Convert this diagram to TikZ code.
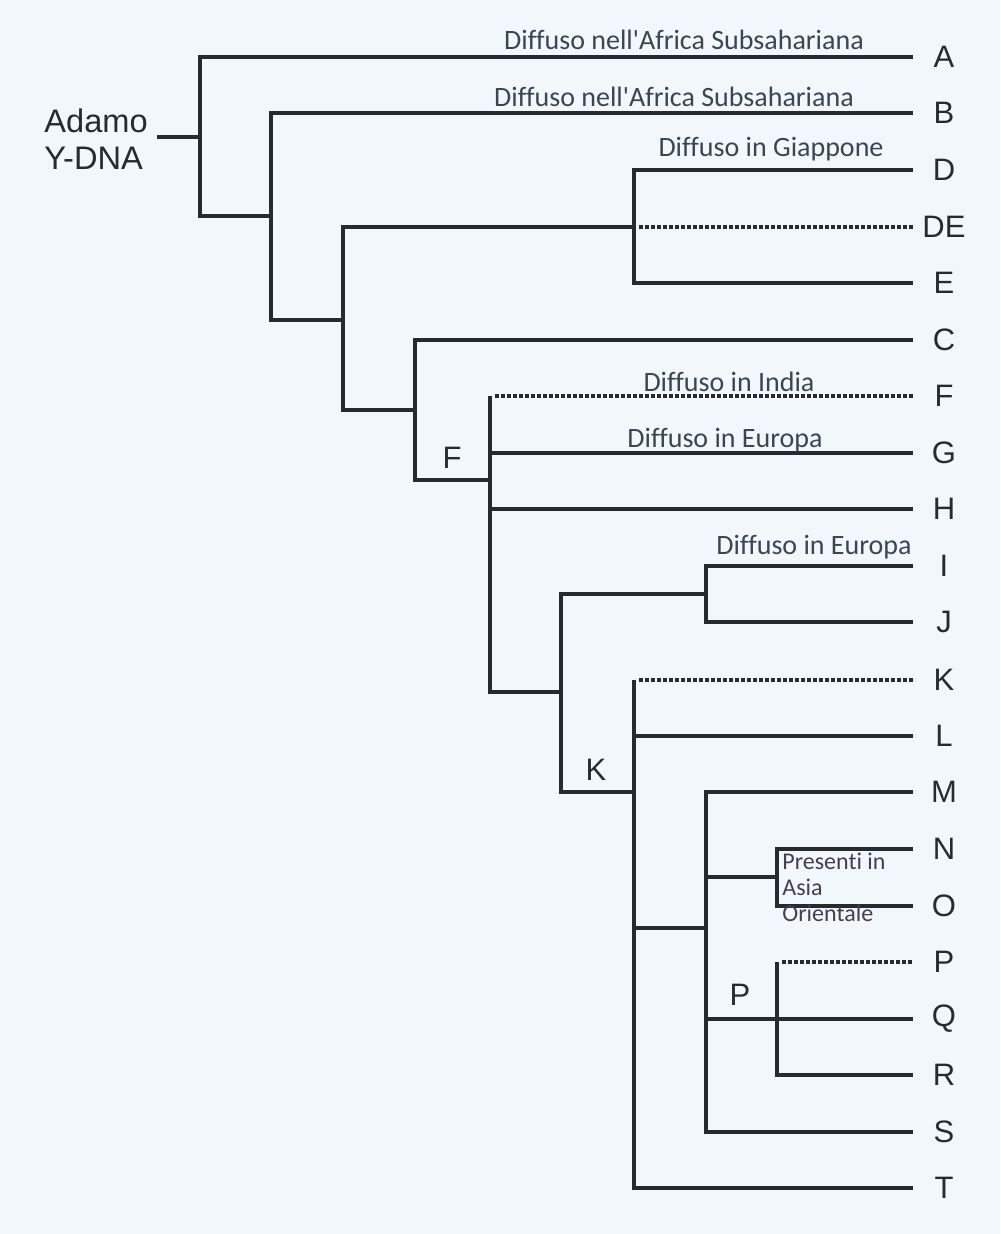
\documentclass[tikz,border=0pt]{standalone}
\usepackage{fontspec}
\setmainfont{Liberation Sans}
\newfontfamily\notefont[Ligatures=CommonOff]{Carlito}
\usepackage{xcolor}
\definecolor{paperBlue}{HTML}{F2F7FB}
\definecolor{treeInk}{HTML}{262B2F}
\definecolor{noteInk}{HTML}{3B4651}
\definecolor{asiaInk}{HTML}{453D55}

\tikzset{
  branch/.style={draw=treeInk,line width=2pt},
  dotline/.style={draw=treeInk,line width=2pt,dash pattern=on 2pt off 1pt},
  leaf/.style={text=treeInk,inner sep=0pt,font=\fontsize{15.5}{18}\selectfont},
  clade/.style={text=treeInk,inner sep=0pt,font=\fontsize{15.5}{18}\selectfont},
  note/.style={text=noteInk,inner sep=0pt,anchor=base,font=\notefont\fontsize{14}{15}\selectfont}
}

\begin{document}
\begin{tikzpicture}[x=0.5pt,y=-0.5pt]
  \fill[paperBlue] (0,0) rectangle (1000,1234);
  \useasboundingbox (0,0) rectangle (1000,1234);

  % leaves
  \foreach \n/\y in {A/57,B/113,D/170,DE/227,E/283,C/340,F/396,G/453,H/509,I/566,J/622,
                     K/680,L/736,M/792,N/849,O/906,P/962,Q/1019,R/1075,S/1132,T/1188} {
    \node[leaf] (l\n) at (944,\y) {\n};
    \coordinate (e\n) at (913,\y);
  }

  % root
  \node[text=treeInk,inner sep=0pt,anchor=west,align=left,
        font=\fontsize{16.3}{18.5}\selectfont] (adamo) at (44,139) {Adamo\\Y-DNA};
  \coordinate (root) at (157,137);

  % internal nodes
  \coordinate (n1) at (200,137);
  \coordinate (n2) at (271,216);
  \coordinate (n3) at (343,320);
  \coordinate (nDE) at (634,227);
  \coordinate (n4) at (415,410);
  \coordinate (nF) at (490,480);
  \coordinate (nIJK) at (561,692);
  \coordinate (nIJ) at (706,594);
  \coordinate (nK) at (634,792);
  \coordinate (nMS) at (706,928);
  \coordinate (nNO) at (777,877);
  \coordinate (nP) at (777,1019);

  \draw[branch] (root) -- (n1);
  \draw[branch] (eA) -| (n1) |- (n2);
  \draw[branch] (eB) -| (n2) |- (n3);
  \draw[branch] (nDE) -| (n3) |- (n4);
  \draw[branch] (eD) -| (nDE) |- (eE);
  \draw[dotline] ([xshift=2.5pt]nDE) -- (eDE);
  \draw[branch] (eC) -| (n4) |- (nF);
  \draw[dotline] ([xshift=2.5pt]nF |- eF) -- (eF);
  \draw[branch] (nF |- eF) |- (nIJK);
  \draw[branch] (nF |- eG) -- (eG);
  \draw[branch] (nF |- eH) -- (eH);
  \draw[branch] (nIJ) -| (nIJK) |- (nK);
  \draw[branch] (eI) -| (nIJ) |- (eJ);
  \draw[dotline] ([xshift=2.5pt]nK |- eK) -- (eK);
  \draw[branch] (nK |- eK) |- (eT);
  \draw[branch] (nK |- eL) -- (eL);
  \draw[branch] (nK |- nMS) -- (nMS);
  \draw[branch] (eM) -| (nMS) |- (eS);
  \draw[branch] (nMS |- nNO) -- (nNO);
  \draw[branch] (eN) -| (nNO) |- (eO);
  \draw[branch] (nMS |- eQ) -- (eQ);
  \draw[dotline] ([xshift=2.5pt]nP |- eP) -- (eP);
  \draw[branch] (nP |- eP) |- (eR);

  % clade labels
  \node[clade] (cF) at (452,458) {F};
  \node[clade] (cK) at (596,770) {K};
  \node[clade] (cP) at (740,995) {P};

  % notes
  \node[note] (noteA) at (684,50) {Diffuso nell'Africa Subsahariana};
  \node[note] (noteB) at (674,107) {Diffuso nell'Africa Subsahariana};
  \node[note] (noteD) at (771,157) {Diffuso in Giappone};
  \node[note] (noteF) at (729,392) {Diffuso in India};
  \node[note] (noteG) at (725,448) {Diffuso in Europa};
  \node[note] (noteI) at (814,554) {Diffuso in Europa};
  \node[text=asiaInk,inner sep=0pt,anchor=north west,align=left,
        font=\notefont\fontsize{12}{13}\selectfont] (noteNO) at (782,853)
        {Presenti in\\Asia\\Orientale};
\end{tikzpicture}
\end{document}
